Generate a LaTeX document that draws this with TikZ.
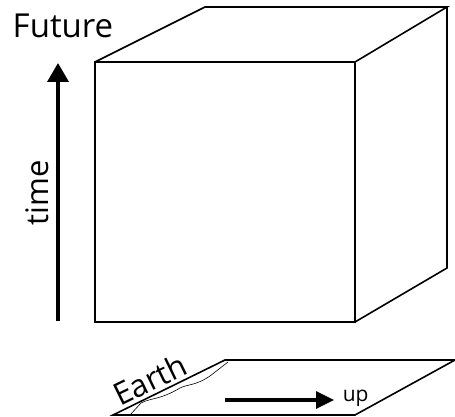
\documentclass[tikz,border=0pt]{standalone}
\usepackage{fontspec}
\setmainfont{Open Sans}
\usetikzlibrary{arrows.meta}

\begin{document}
\begin{tikzpicture}[line width=1.6pt, line join=miter, x=1pt, y=-1pt,
  bigarrow/.style={line width=3.6pt, -{Triangle[length=19pt,width=21pt]}},
  label/.style={inner sep=0pt, font=\fontsize{30}{32}\selectfont}]
  \useasboundingbox (0,0) rectangle (455,417);
  % cube
  \draw (95,62) rectangle (355,322);
  \draw (95,62) -- (205,7) -- (447,7) -- (355,62);
  \draw (447,7) -- (447,268) -- (355,322);
  % time axis
  \coordinate (tstart) at (58,321);
  \coordinate (tend) at (58,63);
  \draw[bigarrow] (tstart) -- (tend);
  \node[label, font=\fontsize{33}{35}\selectfont, anchor=base] (future) at (63,38) {Future};
  \node[label, font=\fontsize{31}{33}\selectfont, rotate=90] (time) at (37,193) {time};
  % earth plane
  \draw (113,415) -- (355,415) -- (455,360) -- (225,360) -- cycle;
  \draw[line width=2.4pt] (113,415) -- (355,415);
  \draw[line width=0.6pt] (130,415) -- (141,403) .. controls (150,398) and (160,400) .. (180,388)
    .. controls (188,384) and (195,386) .. (210,376) -- (228,362);
  \node[label, font=\fontsize{31}{33}\selectfont, rotate=26, anchor=base] (earth) at (155,390) {Earth};
  \coordinate (ustart) at (225,400);
  \coordinate (uend) at (334,400);
  \draw[line width=3.4pt, -{Triangle[length=18pt,width=17pt]}] (ustart) -- (uend);
  \node[label, font=\fontsize{21}{23}\selectfont, anchor=west] (up) at (342,398) {up};
\end{tikzpicture}
\end{document}
